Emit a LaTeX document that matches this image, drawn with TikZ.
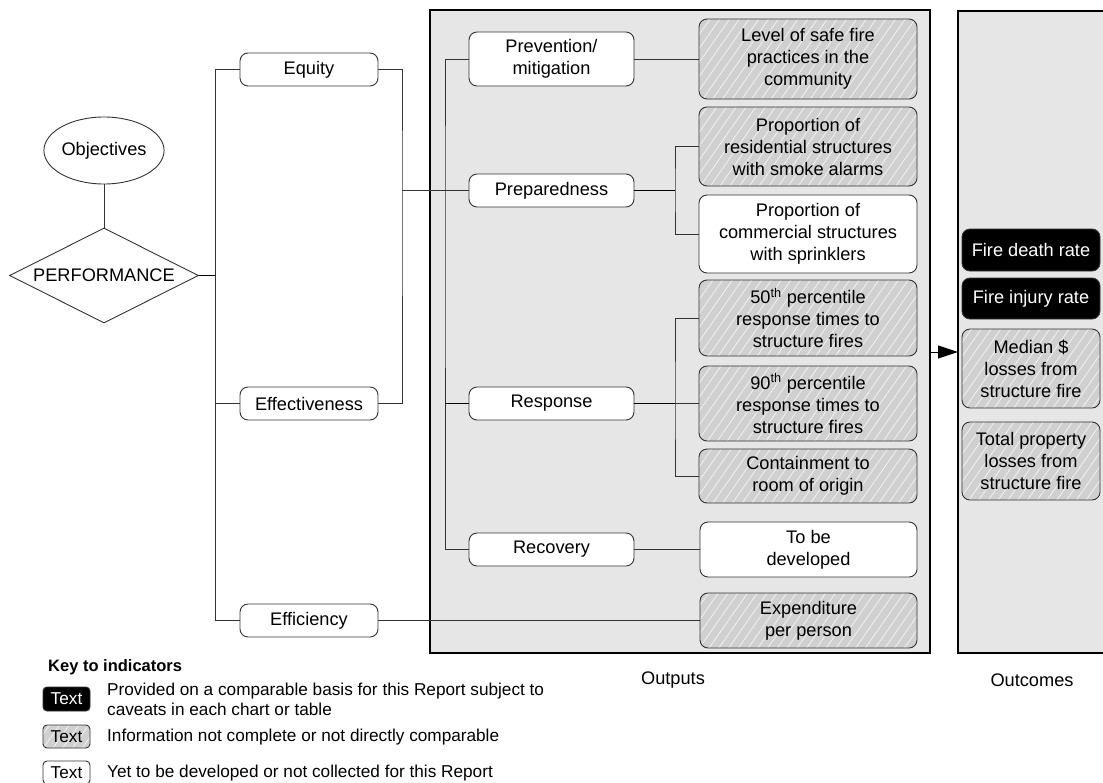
\documentclass[tikz,border=0pt]{standalone}
\usepackage{fontspec}
\setmainfont{Liberation Sans}
\usetikzlibrary{shapes.geometric,patterns.meta,arrows.meta}
\definecolor{panelgray}{HTML}{E6E6E6}
\definecolor{hatchbg}{HTML}{D0D0D0}
\definecolor{hatchline}{HTML}{F2F2F2}
\definecolor{edgegray}{HTML}{333333}

\tikzset{
  txt/.style={font=\fontsize{18.2}{22}\selectfont},
  keytxt/.style={font=\fontsize{17.2}{19.5}\selectfont},
  ind/.style={txt, draw=edgegray, line width=0.9pt, rounded corners=8pt, align=center, inner sep=0pt},
  whitebox/.style={ind, fill=white},
  hatchbox/.style={ind, pattern={Lines[angle=55,distance=8pt,line width=0.8pt]}, pattern color=hatchline, preaction={fill=hatchbg}},
  darkbox/.style={ind, fill=black, text=white},
  sz/.style 2 args={minimum width=#1pt, minimum height=#2pt},
  panelbox/.style={draw=black, line width=1.2pt, fill=panelgray, inner sep=0pt},
  conn/.style={draw=edgegray, line width=0.9pt},
  boldconn/.style={draw=black, line width=1.8pt},
}

\begin{document}
\begin{tikzpicture}[x=1pt, y=-1pt]
\useasboundingbox (0,0) rectangle (1103,782);

% panels
\node[panelbox, minimum width=500pt, minimum height=643pt] (outp) at (680,331.5) {};
\node[panelbox, minimum width=148pt, minimum height=642pt] (outc) at (1032,332) {};

% objectives and performance
\node[txt, draw=edgegray, line width=0.9pt, fill=white, ellipse, inner sep=0pt,
      minimum width=110pt, minimum height=67pt] (obj) at (104,150.5) {Objectives};
\node[txt, draw=edgegray, line width=0.9pt, fill=white, diamond, inner sep=0pt, aspect=2,
      minimum width=189pt, minimum height=95pt] (perf) at (104,275.5) {PERFORMANCE};

% first level
\node[whitebox, sz={138}{33}] (eq)   at (309,69.5)  {Equity};
\node[whitebox, sz={138}{33}] (effv) at (309,403.5) {Effectiveness};
\node[whitebox, sz={138}{33}] (effy) at (309,620.5) {Efficiency};

% output categories
\node[whitebox, sz={165}{54}] (prev) at (551.5,59)    {Prevention/\\mitigation};
\node[whitebox, sz={165}{33}] (prep) at (551.5,190.5) {Preparedness};
\node[whitebox, sz={165}{33}] (resp) at (551.5,403.5) {Response};
\node[whitebox, sz={165}{33}] (rec)  at (551.5,549.5) {Recovery};

% output indicators
\node[hatchbox, sz={218}{80}] (level) at (808,59)    {Level of safe fire\\practices in the\\community};
\node[hatchbox, sz={218}{79}] (res)   at (808,146.5) {Proportion of\\residential structures\\with smoke alarms};
\node[whitebox, sz={218}{78}] (com)   at (808,234)   {Proportion of\\commercial structures\\with sprinklers};
\node[hatchbox, sz={218}{76}] (p50)   at (808,318)   {50\textsuperscript{th} percentile\\response times to\\structure fires};
\node[hatchbox, sz={218}{75}] (p90)   at (808,403.5) {90\textsuperscript{th} percentile\\response times to\\structure fires};
\node[hatchbox, sz={218}{54}] (cont)  at (808,476)   {Containment to\\room of origin};
\node[whitebox, sz={217}{55}] (tbd)   at (808.5,549.5) {To be\\developed};
\node[hatchbox, sz={217}{55}] (exp)   at (808.5,620.5) {Expenditure\\per person};

% outcome indicators
\node[darkbox,  sz={138}{42}] (death)  at (1031,250)   {Fire death rate};
\node[darkbox,  sz={138}{41}] (injury) at (1031,298.5) {Fire injury rate};
\node[hatchbox, sz={138}{79}] (median) at (1031,368.5) {Median \$\\losses from\\structure fire};
\node[hatchbox, sz={138}{78}] (total)  at (1031,461)   {Total property\\losses from\\structure fire};

% junction points
\coordinate (jP)  at (215,275.5);
\coordinate (jR)  at (402,190.5);
\coordinate (jO)  at (445,190.5);
\coordinate (jPr) at (675,190.5);
\coordinate (jRs) at (675,403.5);
\coordinate (aS)  at (930,352);
\coordinate (aE)  at (958,352);

% connectors
\draw[conn] (obj) -- (perf);
\draw[boldconn] (perf.east) -- (jP);
\draw[conn] (eq.west) -- (eq.west -| jP) -- (effy.west -| jP) -- (effy.west);
\draw[conn] (effv.west) -- (effv.west -| jP);
\draw[conn] (eq.east) -| (jR) |- (effv.east);
\draw[conn] (jR) -- (prep.west);
\draw[conn] (prev.west) -| (jO) |- (rec.west);
\draw[boldconn] (resp.west) -- (resp.west -| jO);
\draw[conn] (prev.east) -- (level.west);
\draw[boldconn] (prep.east) -- (jPr);
\draw[conn] (res.west) -| (jPr) |- (com.west);
\draw[boldconn] (resp.east) -- (jRs);
\draw[conn] (p50.west) -| (jRs) |- (cont.west);
\draw[conn] (p90.west) -- (jRs);
\draw[conn] (rec.east) -- (tbd.west);
\draw[conn] (effy.east) -- (exp.west);
\draw[line width=1pt, -{Triangle[length=20pt,width=13pt]}] (aS) -- (aE);

% panel captions
\node[txt] (outl) at (673,680) {Outputs};
\node[txt] (ocl)  at (1032,680) {Outcomes};

% key
\node[font=\fontsize{16.5}{19.5}\selectfont\bfseries, anchor=west, inner sep=0pt] (keyt) at (48,667) {Key to indicators};
\node[darkbox, keytxt, rounded corners=4pt, sz={47}{24}] (k1) at (66.5,699) {Text};
\node[hatchbox, keytxt, rounded corners=4pt, sz={47}{23}] (k2) at (66.5,736.5) {Text};
\node[whitebox, keytxt, rounded corners=4pt, sz={47}{23}] (k3) at (66.5,772.5) {Text};
\node[keytxt, anchor=west, align=left, inner sep=0pt] (k1t) at (107,699.5) {Provided on a comparable basis for this Report subject to\\caveats in each chart or table};
\node[keytxt, anchor=west, inner sep=0pt] (k2t) at (107,737) {Information not complete or not directly comparable};
\node[keytxt, anchor=west, inner sep=0pt] (k3t) at (107,773) {Yet to be developed or not collected for this Report};
\end{tikzpicture}
\end{document}
